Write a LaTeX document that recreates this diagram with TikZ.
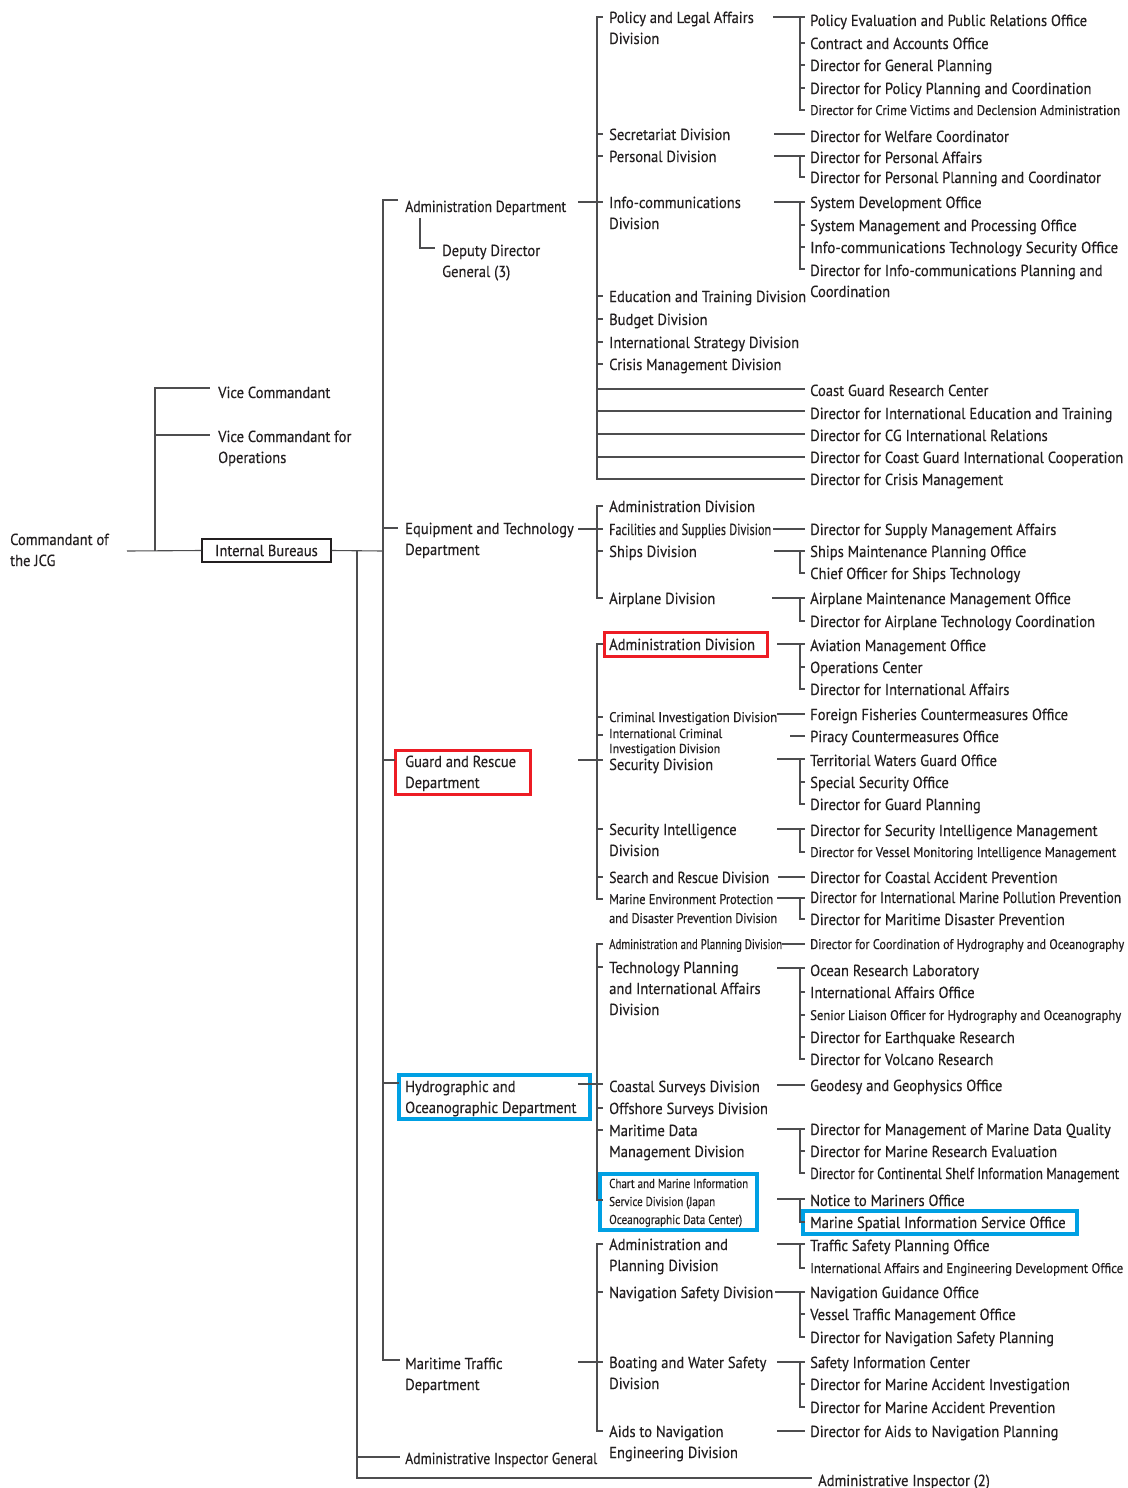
\documentclass[tikz,border=0pt]{standalone}
\usepackage{fontspec}
\usepackage{graphicx}
\newfontfamily\mainfam[FakeStretch=0.91,FakeBold=0.3]{PT Sans}
\newfontfamily\condfam[FakeStretch=0.8,FakeBold=0.3]{PT Sans}
\newcommand\mainf{\mainfam\fontsize{16}{21}\selectfont}
\newcommand\condf{\condfam\fontsize{14}{19}\selectfont}
\newcommand\tinyf{\condfam\fontsize{13}{15}\selectfont}
% squeeze a one-line label horizontally to a given width (in pt)
\newcommand\fitw[2]{\setbox0\hbox{#2}\pgfmathsetmacro\fitscale{#1/(\the\wd0)}\scalebox{\fitscale}[1]{#2}}
% several lines, aligned on the baseline of the first one
\newcommand\ml[1]{\begin{tabular}[t]{@{}l@{}}#1\end{tabular}}
\definecolor{ink}{HTML}{231F20}
\definecolor{lc}{HTML}{4D4D4F}
\definecolor{hred}{HTML}{ED1C24}
\definecolor{hblue}{HTML}{00A0E3}
\tikzset{
  lbl/.style={anchor=base west, inner sep=0pt, font=\mainf, text=ink},
  slbl/.style={lbl, font=\condf},
  tlbl/.style={lbl, font=\tinyf},
  wire/.style={draw=lc, line width=1.1pt},
  redbox/.style={draw=hred, line width=3pt},
  bluebox/.style={draw=hblue, line width=3.5pt},
}
\begin{document}
\begin{tikzpicture}[x=1pt,y=-1pt]
\useasboundingbox (0,0) rectangle (1127,1488);
\fill[white] (0,0) rectangle (1127,1488);

% ---------- highlight frames ----------
\draw[redbox] (395,750) rectangle (530,794);
\draw[redbox] (604,632) rectangle (767,656);
\draw[bluebox] (399,1075) rectangle (590,1119);
\draw[bluebox] (600,1174) rectangle (757,1230);
\draw[bluebox] (803,1211) rectangle (1077,1234);

% ---------- top level ----------
\node[lbl] (cmd) at (10,545) {\ml{Commandant of\\the JCG}};
\node[lbl] (vc) at (218,398) {Vice Commandant};
\node[lbl] (vco) at (218,442) {\ml{Vice Commandant for\\Operations}};
\node[draw=ink, line width=1.2pt, minimum width=129pt, minimum height=23pt, inner sep=0pt, font=\mainf, text=ink] (ib) at (266.5,550.5) {Internal Bureaus};

\coordinate (c0) at (127,551);
\draw[wire] (c0) -- (ib.west);
\draw[wire] (155,551) -- (155,388) -- (210,388);
\draw[wire] (155,435) -- (210,435);

% ---------- departments ----------
\node[lbl] (adm) at (405,212) {\fitw{161}{Administration Department}};
\node[lbl] (ddg) at (442,256) {\ml{Deputy Director\\General (3)}};
\node[lbl] (eqt) at (405,534) {\ml{Equipment and Technology\\Department}};
\node[lbl] (grd) at (405,767) {\ml{Guard and Rescue\\Department}};
\node[lbl] (hyd) at (405,1092) {\ml{Hydrographic and\\Oceanographic Department}};
\node[lbl] (mtd) at (405,1369) {\ml{Maritime Traffic\\Department}};
\node[lbl] (aig) at (405,1464) {\fitw{192}{Administrative Inspector General}};
\node[lbl] (ai2) at (818,1486) {Administrative Inspector (2)};

\coordinate (sp1) at (383,551);
\coordinate (sp2) at (357,551);
\draw[wire] (ib.east) -- (sp1);
\draw[wire] (398,200) -- (383,200) -- (383,1360) -- (400,1360);
\draw[wire] (383,528) -- (398,528);
\draw[wire] (383,760) -- (395,760);
\draw[wire] (383,1083) -- (399,1083);
\draw[wire] (sp2) -- (357,1478) -- (812,1478);
\draw[wire] (357,1457) -- (400,1457);
\draw[wire] (420,218) -- (420,248) -- (435,248);

% department -> division spine
\draw[wire] (578,202) -- (597,202);
\draw[wire] (578,529) -- (597,529);
\draw[wire] (578,760) -- (603,760);
\draw[wire] (578,1084) -- (603,1084);
\draw[wire] (578,1362) -- (603,1362);

% ---------- divisions : Administration Department ----------
\node[lbl] (d1) at (609,23) {\ml{Policy and Legal Affairs\\Division}};
\node[lbl] (d2) at (609,140) {Secretariat Division};
\node[lbl] (d3) at (609,162) {Personal Division};
\node[lbl] (d4) at (609,208) {\ml{Info-communications\\Division}};
\node[lbl] (d5) at (609,302) {Education and Training Division};
\node[lbl] (d6) at (609,325) {Budget Division};
\node[lbl] (d7) at (609,348) {International Strategy Division};
\node[lbl] (d8) at (609,370) {Crisis Management Division};
\draw[wire] (603,17) -- (597,17) -- (597,479) -- (805,479);
\foreach \y in {134,156,202,296,319,342,364} \draw[wire] (597,\y) -- (603,\y);
\foreach \y in {389,411,434,457} \draw[wire] (597,\y) -- (805,\y);

% ---------- divisions : Equipment and Technology ----------
\node[lbl] (e1) at (609,512) {Administration Division};
\node[lbl] (e2) at (609,535) {\fitw{162}{Facilities and Supplies Division}};
\node[lbl] (e3) at (609,557) {Ships Division};
\node[lbl] (e4) at (609,604) {Airplane Division};
\draw[wire] (603,506) -- (597,506) -- (597,598) -- (603,598);
\foreach \y in {529,551} \draw[wire] (597,\y) -- (603,\y);

% ---------- divisions : Guard and Rescue ----------
\node[lbl] (g1) at (609,650) {Administration Division};
\node[slbl] (g2) at (609,722) {\fitw{168}{Criminal Investigation Division}};
\node[tlbl] (g3) at (609,738) {\ml{\fitw{113}{International Criminal}\\\fitw{111}{Investigation Division}}};
\node[lbl] (g4) at (609,770) {Security Division};
\node[lbl] (g5) at (609,835) {\ml{Security Intelligence\\Division}};
\node[lbl] (g6) at (609,883) {\fitw{160}{Search and Rescue Division}};
\node[slbl] (g7) at (609,904) {\ml{\fitw{164}{Marine Environment Protection}\\\fitw{168}{and Disaster Prevention Division}}};
\draw[wire] (603,644) -- (597,644) -- (597,899) -- (603,899);
\foreach \y in {717,735,829,877} \draw[wire] (597,\y) -- (603,\y);

% ---------- divisions : Hydrographic and Oceanographic ----------
\node[slbl] (h1) at (609,949) {\fitw{173}{Administration and Planning Division}};
\node[lbl] (h2) at (609,973) {\ml{Technology Planning\\and International Affairs\\Division}};
\node[lbl] (h3) at (609,1092) {Coastal Surveys Division};
\node[lbl] (h4) at (609,1114) {Offshore Surveys Division};
\node[lbl] (h5) at (609,1136) {\ml{Maritime Data\\Management Division}};
\node[tlbl, font=\condfam\fontsize{13}{18}\selectfont] (h6) at (609,1188) {\ml{\fitw{139}{Chart and Marine Information}\\\fitw{106}{Service Division (Japan}\\\fitw{133}{Oceanographic Data Center)}}};
\draw[wire] (603,944) -- (597,944) -- (597,1200) -- (603,1200);
\foreach \y in {967,1108,1130} \draw[wire] (597,\y) -- (603,\y);

% ---------- divisions : Maritime Traffic ----------
\node[lbl] (m1) at (609,1250) {\ml{Administration and\\Planning Division}};
\node[lbl] (m2) at (609,1298) {Navigation Safety Division};
\node[lbl] (m3) at (609,1368) {\ml{Boating and Water Safety\\Division}};
\node[lbl] (m4) at (609,1437) {\ml{Aids to Navigation\\Engineering Division}};
\draw[wire] (603,1244) -- (597,1244) -- (597,1431) -- (603,1431);
\foreach \y in {1292} \draw[wire] (597,\y) -- (603,\y);

% ---------- offices and directors ----------
\node[lbl] (o1) at (810,26) {Policy Evaluation and Public Relations Office};
\node[lbl] (o2) at (810,49) {Contract and Accounts Office};
\node[lbl] (o3) at (810,71) {Director for General Planning};
\node[lbl] (o4) at (810,94) {Director for Policy Planning and Coordination};
\node[slbl] (o5) at (810,115) {\fitw{310}{Director for Crime Victims and Declension Administration}};
\node[lbl] (o6) at (810,142) {Director for Welfare Coordinator};
\node[lbl] (o7) at (810,163) {Director for Personal Affairs};
\node[lbl] (o8) at (810,183) {Director for Personal Planning and Coordinator};
\node[lbl] (o9) at (810,208) {System Development Office};
\node[lbl] (o10) at (810,231) {System Management and Processing Office};
\node[lbl] (o11) at (810,253) {\fitw{308}{Info-communications Technology Security Office}};
\node[lbl] (o12) at (810,276) {\ml{Director for Info-communications Planning and\\Coordination}};
\node[lbl] (o13) at (810,396) {Coast Guard Research Center};
\node[lbl] (o14) at (810,419) {Director for International Education and Training};
\node[lbl] (o15) at (810,441) {Director for CG International Relations};
\node[lbl] (o16) at (810,463) {Director for Coast Guard International Cooperation};
\node[lbl] (o17) at (810,485) {Director for Crisis Management};
\node[lbl] (o18) at (810,535) {Director for Supply Management Affairs};
\node[lbl] (o19) at (810,557) {Ships Maintenance Planning Office};
\node[lbl] (o20) at (810,579) {Chief Officer for Ships Technology};
\node[lbl] (o21) at (810,604) {Airplane Maintenance Management Office};
\node[lbl] (o22) at (810,627) {Director for Airplane Technology Coordination};
\node[lbl] (o23) at (810,651) {Aviation Management Office};
\node[lbl] (o24) at (810,673) {Operations Center};
\node[lbl] (o25) at (810,695) {Director for International Affairs};
\node[lbl] (o26) at (810,720) {Foreign Fisheries Countermeasures Office};
\node[lbl] (o27) at (810,742) {Piracy Countermeasures Office};
\node[lbl] (o28) at (810,766) {Territorial Waters Guard Office};
\node[lbl] (o29) at (810,788) {Special Security Office};
\node[lbl] (o30) at (810,810) {Director for Guard Planning};
\node[lbl] (o31) at (810,836) {Director for Security Intelligence Management};
\node[slbl] (o32) at (810,857) {\fitw{306}{Director for Vessel Monitoring Intelligence Management}};
\node[lbl] (o33) at (810,883) {Director for Coastal Accident Prevention};
\node[lbl] (o34) at (810,903) {\fitw{311}{Director for International Marine Pollution Prevention}};
\node[lbl] (o35) at (810,925) {Director for Maritime Disaster Prevention};
\node[slbl] (o36) at (810,949) {\fitw{314}{Director for Coordination of Hydrography and Oceanography}};
\node[lbl] (o37) at (810,976) {Ocean Research Laboratory};
\node[lbl] (o38) at (810,998) {International Affairs Office};
\node[slbl] (o39) at (810,1020) {\fitw{311}{Senior Liaison Officer for Hydrography and Oceanography}};
\node[lbl] (o40) at (810,1043) {Director for Earthquake Research};
\node[lbl] (o41) at (810,1065) {Director for Volcano Research};
\node[lbl] (o42) at (810,1091) {Geodesy and Geophysics Office};
\node[lbl] (o43) at (810,1135) {Director for Management of Marine Data Quality};
\node[lbl] (o44) at (810,1157) {Director for Marine Research Evaluation};
\node[lbl] (o45) at (810,1179) {\fitw{309}{Director for Continental Shelf Information Management}};
\node[lbl] (o46) at (810,1206) {Notice to Mariners Office};
\node[lbl] (o47) at (810,1228) {Marine Spatial Information Service Office};
\node[lbl] (o48) at (810,1251) {Traffic Safety Planning Office};
\node[slbl] (o49) at (810,1273) {\fitw{313}{International Affairs and Engineering Development Office}};
\node[lbl] (o50) at (810,1298) {Navigation Guidance Office};
\node[lbl] (o51) at (810,1320) {Vessel Traffic Management Office};
\node[lbl] (o52) at (810,1343) {Director for Navigation Safety Planning};
\node[lbl] (o53) at (810,1368) {Safety Information Center};
\node[lbl] (o54) at (810,1390) {Director for Marine Accident Investigation};
\node[lbl] (o55) at (810,1413) {Director for Marine Accident Prevention};
\node[lbl] (o56) at (810,1437) {Director for Aids to Navigation Planning};

% ---------- division -> office brackets ----------
% single links
\foreach \a/\b/\y in {774/805/134, 773/805/529, 777/805/714, 790/805/736, 778/805/877, 782/805/944, 777/805/1085, 777/805/1431}
  \draw[wire] (\a,\y) -- (\b,\y);
% bracketed groups: start x / top y / bottom y
\foreach \a/\t/\bt in {773/17/110, 774/156/177, 774/202/269, 774/551/573, 772/598/621, 777/644/689, 777/759/804, 777/829/852, 777/898/919, 777/968/1059, 777/1129/1173, 777/1199/1222, 777/1244/1268, 775/1292/1337, 777/1362/1407}
  \draw[wire] (\a,\t) -- (805,\t) (800,\t) -- (800,\bt) -- (805,\bt);
% inner ticks
\foreach \y in {43,65,88,225,247,667,782,992,1015,1037,1151,1314,1384}
  \draw[wire] (800,\y) -- (805,\y);
\end{tikzpicture}
\end{document}
